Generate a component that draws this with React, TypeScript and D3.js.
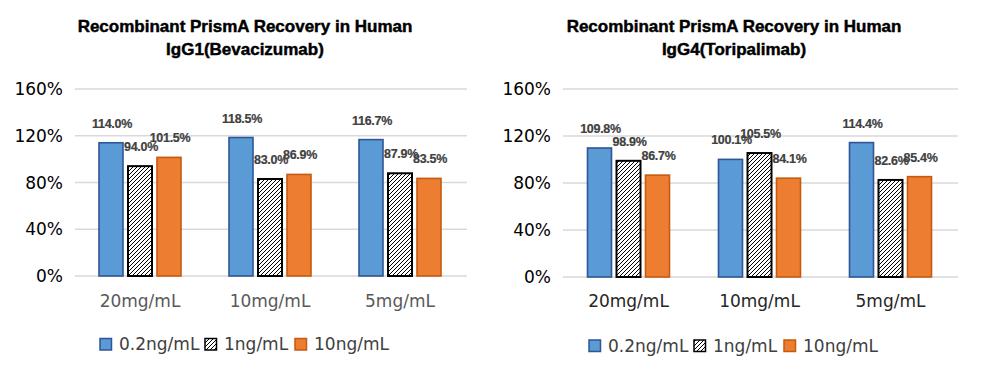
import React from "react";
import * as d3 from "d3";

const categories = ["20mg/mL", "10mg/mL", "5mg/mL"];
const seriesNames = ["0.2ng/mL", "1ng/mL", "10ng/mL"];
const yTicks = [0, 40, 80, 120, 160];

const igg1Low = [114.0, 118.5, 116.7];
const igg1Mid = [94.0, 83.0, 87.9];
const igg1High = [101.5, 86.9, 83.5];

const igg4Low = [109.8, 100.1, 114.4];
const igg4Mid = [98.9, 105.5, 82.6];
const igg4High = [86.7, 84.1, 85.4];

const fills = ["#5B9BD5", "url(#hatch)", "#ED7D31"];
const strokes = ["#2F5597", "#000000", "#C55A11"];
const strokeW = [1.6, 2, 1.6];

type ChartProps = {
  title1: string;
  title2: string;
  series: number[][];
  left: number;
  right: number;
  yTop: number;
  yBottom: number;
  titleX: number;
  xLabelColor: string;
  legendX: number;
  legendY: number;
};

function Chart(p: ChartProps) {
  const x = d3.scaleBand<string>().domain(categories).range([p.left, p.right]);
  const inner = d3.scalePoint<string>().domain(seriesNames).range([-29, 29]);
  const y = d3.scaleLinear().domain([0, 160]).range([p.yBottom, p.yTop]);
  const barW = 24;
  const legendOffsets = [0, 105, 195];
  const titleProps = {
    x: p.titleX,
    textAnchor: "middle" as const,
    fontFamily: "Liberation Sans, Arial, sans-serif",
    fontWeight: "bold",
    fontSize: 17,
    fill: "#000",
    stroke: "#000",
    strokeWidth: 0.45,
  };
  return (
    <g>
      <text {...titleProps} y={32}>
        {p.title1}
      </text>
      <text {...titleProps} y={55}>
        {p.title2}
      </text>
      {yTicks.map((t) => (
        <g key={t}>
          <line x1={p.left} x2={p.right + 2} y1={y(t)} y2={y(t)} stroke="#D9D9D9" strokeWidth={1.5} />
          <text
            x={p.left - 12}
            y={y(t)}
            dy="0.36em"
            textAnchor="end"
            fontFamily="DejaVu Sans, sans-serif"
            fontSize={17}
            fill="#000"
          >
            {t}%
          </text>
        </g>
      ))}
      {categories.map((c, ci) => (
        <g key={c}>
          {seriesNames.map((s, si) => {
            const v = p.series[si][ci];
            const cx = (x(c) as number) + x.bandwidth() / 2 + (inner(s) as number);
            return (
              <g key={s}>
                <rect
                  x={cx - barW / 2}
                  y={y(v)}
                  width={barW}
                  height={y(0) - y(v)}
                  fill={fills[si]}
                  stroke={strokes[si]}
                  strokeWidth={strokeW[si]}
                />
                <text
                  x={cx + 1}
                  y={y(v) - 15}
                  textAnchor="middle"
                  fontFamily="Liberation Sans, Arial, sans-serif"
                  fontWeight="bold"
                  fontSize={12.5}
                  letterSpacing={-0.3}
                  fill="#404040"
                  stroke="#404040"
                  strokeWidth={0.2}
                >
                  {v.toFixed(1)}%
                </text>
              </g>
            );
          })}
          <text
            x={(x(c) as number) + x.bandwidth() / 2}
            y={307}
            textAnchor="middle"
            fontFamily="DejaVu Sans, sans-serif"
            fontSize={17}
            fill={p.xLabelColor}
          >
            {c}
          </text>
        </g>
      ))}
      {seriesNames.map((s, si) => {
        const lx = p.legendX + legendOffsets[si];
        return (
          <g key={s}>
            <rect
              x={lx}
              y={p.legendY - 11.5}
              width={11.5}
              height={11.5}
              fill={fills[si]}
              stroke={strokes[si]}
              strokeWidth={1.5}
            />
            <text
              x={lx + 19}
              y={p.legendY}
              fontFamily="DejaVu Sans, sans-serif"
              fontSize={17}
              fill="#404040"
            >
              {s}
            </text>
          </g>
        );
      })}
    </g>
  );
}

export default function App() {
  return (
    <svg width={981} height={375} style={{ position: "absolute", left: 0, top: 0, background: "#fff" }}>
      <defs>
        <pattern id="hatch" patternUnits="userSpaceOnUse" width={4} height={4}>
          <rect width={4} height={4} fill="#fff" />
          <path d="M-1,1 l2,-2 M0,4 l4,-4 M3,5 l2,-2" stroke="#000" strokeWidth={1} />
        </pattern>
      </defs>
      <rect width={981} height={375} fill="#fff" />
      <Chart
        title1="Recombinant PrismA Recovery in Human"
        title2="IgG1(Bevacizumab)"
        series={[igg1Low, igg1Mid, igg1High]}
        left={75}
        right={465}
        yTop={89}
        yBottom={276}
        titleX={245}
        xLabelColor="#595959"
        legendX={100}
        legendY={350}
      />
      <Chart
        title1="Recombinant PrismA Recovery in Human"
        title2="IgG4(Toripalimab)"
        series={[igg4Low, igg4Mid, igg4High]}
        left={563}
        right={956}
        yTop={89}
        yBottom={277}
        titleX={734}
        xLabelColor="#262626"
        legendX={589}
        legendY={351.5}
      />
    </svg>
  );
}
